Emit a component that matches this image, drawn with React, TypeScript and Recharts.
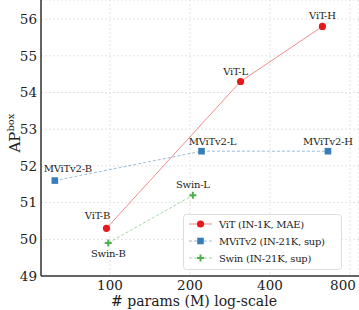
import { ScatterChart, Scatter, XAxis, YAxis, CartesianGrid, Label } from 'recharts';

// params (M), AP box
const vitNames = ['ViT-B', 'ViT-L', 'ViT-H'];
const vitParams = [97, 310, 630];
const vitAP = [50.3, 54.3, 55.8];

const mvitNames = ['MViTv2-B', 'MViTv2-L', 'MViTv2-H'];
const mvitParams = [62, 221, 661];
const mvitAP = [51.6, 52.4, 52.4];

const swinNames = ['Swin-B', 'Swin-L'];
const swinParams = [98.5, 205];
const swinAP = [49.9, 51.2];

const xTicks = [100, 200, 400, 800];
const yTicks = [49, 50, 51, 52, 53, 54, 55, 56];

const zip = (names: string[], xs: number[], ys: number[]) =>
  names.map((name, i) => ({ name, params: xs[i], ap: ys[i] }));

const vit = zip(vitNames, vitParams, vitAP);
const mvit = zip(mvitNames, mvitParams, mvitAP);
const swin = zip(swinNames, swinParams, swinAP);

const FONT = 'DejaVu Serif';
const RED = '#e41a1c';
const BLUE = '#377eb8';
const GREEN = '#4daf4a';

// where each point's name sits relative to the marker
const LABEL_OFFSET: Record<string, [number, number]> = {
  'ViT-B': [-9, -9],
  'ViT-L': [-5, -6],
  'ViT-H': [0, -7],
  'MViTv2-B': [13, -9],
  'MViTv2-L': [11, -6],
  'MViTv2-H': [0, -6],
  'Swin-B': [0, 14],
  'Swin-L': [0, -7],
};

function Marker({ kind, cx, cy }: { kind: string; cx: number; cy: number }) {
  if (kind === 'circle') return <circle cx={cx} cy={cy} r={3.6} fill={RED} />;
  if (kind === 'square') return <rect x={cx - 3.3} y={cy - 3.3} width={6.6} height={6.6} fill={BLUE} />;
  return (
    <g stroke={GREEN} strokeWidth={2}>
      <line x1={cx - 3.5} y1={cy} x2={cx + 3.5} y2={cy} />
      <line x1={cx} y1={cy - 3.5} x2={cx} y2={cy + 3.5} />
    </g>
  );
}

const makeShape = (kind: string) => (props: any) => {
  const { cx, cy, payload } = props;
  const [dx, dy] = LABEL_OFFSET[payload.name] || [0, -8];
  return (
    <g>
      <Marker kind={kind} cx={cx} cy={cy} />
      <text x={cx + dx} y={cy + dy} textAnchor="middle" fontFamily={FONT} fontSize={10} letterSpacing={-0.2} fill="#222">
        {payload.name}
      </text>
    </g>
  );
};

// last x tick would run past the right edge, so nudge it in
const XTick = (props: any) => {
  const { x, y, payload } = props;
  const shift = payload.value === 800 ? -4 : 0;
  return (
    <text x={x + shift} y={y} dy="0.71em" textAnchor="middle" fontFamily={FONT} fontSize={13.5} fill="#222">
      {payload.value}
    </text>
  );
};

const legendRows = [
  { label: 'ViT (IN-1K, MAE)', kind: 'circle', color: RED, dash: undefined },
  { label: 'MViTv2 (IN-21K, sup)', kind: 'square', color: BLUE, dash: '3 2' },
  { label: 'Swin (IN-21K, sup)', kind: 'plus', color: GREEN, dash: '3 2' },
];

function LegendBox() {
  return (
    <svg width={159} height={56} style={{ display: 'block', position: 'absolute', left: 183, top: 214 }}>
      <rect x={0.5} y={0.5} width={158} height={55} rx={3} fill="#fff" fillOpacity={0.85} stroke="#ddd" />
      {legendRows.map((r, i) => {
        const y = 10 + i * 17;
        return (
          <g key={r.label}>
            <line x1={6} y1={y} x2={29} y2={y} stroke={r.color} strokeOpacity={0.5} strokeWidth={1} strokeDasharray={r.dash} />
            <Marker kind={r.kind} cx={17.5} cy={y} />
            <text x={36} y={y + 3.5} fontFamily={FONT} fontSize={10} letterSpacing={-0.25} fill="#222">{r.label}</text>
          </g>
        );
      })}
    </svg>
  );
}

export default function App() {
  return (
    <div style={{ position: 'absolute', left: 0, top: 0, width: 359, height: 310, fontFamily: FONT }}>
      <ScatterChart width={359} height={310} margin={{ top: 0, right: 0, bottom: 0, left: 0 }}>
        <CartesianGrid stroke="#e3e3e3" strokeDasharray="2 2" />
        <XAxis
          type="number"
          dataKey="params"
          scale="log"
          domain={[55, 865]}
          ticks={xTicks}
          allowDataOverflow
          height={34}
          tickLine={false}
          tickSize={2}
          tickMargin={2}
          axisLine={{ stroke: '#333', strokeWidth: 1.5 }}
          tick={<XTick />}
        >
          <Label
            content={(p: any) => (
              <text
                x={p.viewBox.x + p.viewBox.width / 2 - 6}
                y={p.viewBox.y + 30}
                textAnchor="middle"
                fontFamily={FONT}
                fontSize={14}
                fill="#222"
              >
                # params (M) log-scale
              </text>
            )}
          />
        </XAxis>
        <YAxis
          type="number"
          dataKey="ap"
          domain={[49, 56.52]}
          ticks={yTicks}
          allowDataOverflow
          width={41}
          tickLine={false}
          tickSize={2}
          tickMargin={2}
          axisLine={{ stroke: '#333', strokeWidth: 1.5 }}
          tick={{ fontFamily: FONT, fontSize: 13.5, fill: '#222' }}
        >
          <Label
            content={(p: any) => {
              const cx = 20;
              const cy = p.viewBox.y + p.viewBox.height / 2 - 5;
              return (
                <text x={cx} y={cy} transform={`rotate(-90 ${cx} ${cy})`} textAnchor="middle" fontFamily={FONT} fill="#222">
                  <tspan fontSize={15}>AP</tspan>
                  <tspan fontSize={10} dy={-6}>box</tspan>
                </text>
              );
            }}
          />
        </YAxis>
        <Scatter
          data={vit}
          isAnimationActive={false}
          line={{ stroke: RED, strokeOpacity: 0.5, strokeWidth: 1 }}
          shape={makeShape('circle')}
        />
        <Scatter
          data={mvit}
          isAnimationActive={false}
          line={{ stroke: BLUE, strokeOpacity: 0.5, strokeWidth: 1, strokeDasharray: '3 2' }}
          shape={makeShape('square')}
        />
        <Scatter
          data={swin}
          isAnimationActive={false}
          line={{ stroke: GREEN, strokeOpacity: 0.5, strokeWidth: 1, strokeDasharray: '3 2' }}
          shape={makeShape('plus')}
        />
      </ScatterChart>
      <LegendBox />
    </div>
  );
}
